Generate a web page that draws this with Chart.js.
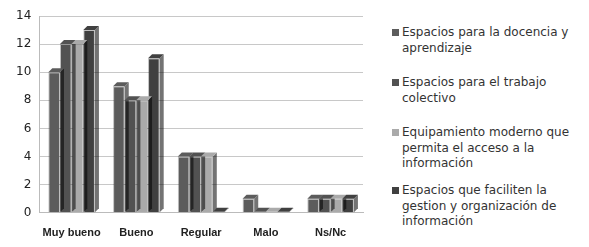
<!DOCTYPE html>
<html>
<head>
<meta charset="utf-8">
<script src="https://cdn.jsdelivr.net/npm/chart.js@4"></script>
<style>
  html, body { margin: 0; padding: 0; background: #fff; }
  #wrap { position: relative; width: 589px; height: 247px; }
  #chart-box { position: absolute; left: 0; top: 0; width: 385px; height: 247px; }
  #legend { position: absolute; left: 392px; top: 25px; width: 192px;
            font-family: 'DejaVu Sans', sans-serif; font-size: 12px; color: #333; line-height: 15.5px; }
  .item { position: absolute; left: 0; padding-left: 10px; }
  .sw { position: absolute; left: 0; top: 4px; width: 7px; height: 7px; }
</style>
</head>
<body>
<div id="wrap">
  <div id="chart-box"><canvas id="c"></canvas></div>
  <div id="legend"></div>
</div>
<script>
'use strict';

// ---- data ----
const categories = ['Muy bueno', 'Bueno', 'Regular', 'Malo', 'Ns/Nc'];
const seriesNames = [
  'Espacios para la docencia y aprendizaje',
  'Espacios para el trabajo colectivo',
  'Equipamiento moderno que permita el acceso a la información',
  'Espacios que faciliten la gestion y organización de información'
];
const docencia     = [10, 9, 4, 1, 1];
const colectivo    = [12, 8, 4, 0, 1];
const equipamiento = [12, 8, 4, 0, 1];
const gestion      = [13, 11, 0, 0, 1];
const yTicks = [0, 2, 4, 6, 8, 10, 12, 14];

const colors = ['#5c5c5c', '#525252', '#aaaaaa', '#404040'];
const legendTops = [0, 50, 100, 158];

// ---- fake 3D depth on the bars ----
const depth3d = {
  id: 'depth3d',
  afterDatasetsDraw(chart) {
    const ctx = chart.ctx;
    const d = 4;
    chart.data.datasets.forEach((ds, i) => {
      chart.getDatasetMeta(i).data.forEach(bar => {
        const l = bar.x - bar.width / 2, r = bar.x + bar.width / 2;
        const t = bar.y, b = bar.base;
        ctx.save();
        ctx.fillStyle = 'rgba(0,0,0,0.55)';
        ctx.beginPath();
        ctx.moveTo(r, t); ctx.lineTo(r + d, t - d); ctx.lineTo(r + d, b - d); ctx.lineTo(r, b);
        ctx.closePath(); ctx.fill();
        ctx.fillStyle = ds.backgroundColor;
        ctx.beginPath();
        ctx.moveTo(l, t); ctx.lineTo(l + d, t - d); ctx.lineTo(r + d, t - d); ctx.lineTo(r, t);
        ctx.closePath(); ctx.fill();
        ctx.restore();
      });
    });
  }
};

const values = [docencia, colectivo, equipamiento, gestion];

new Chart(document.getElementById('c'), {
  type: 'bar',
  data: {
    labels: categories,
    datasets: values.map((v, i) => ({
      label: seriesNames[i],
      data: v,
      backgroundColor: colors[i],
      borderColor: 'rgba(0,0,0,0.25)',
      borderWidth: 1,
      minBarLength: 1
    }))
  },
  plugins: [depth3d],
  options: {
    responsive: true,
    maintainAspectRatio: false,
    animation: false,
    layout: { padding: { left: 8, right: 22, top: 16, bottom: 1 } },
    plugins: { legend: { display: false }, tooltip: { enabled: false } },
    datasets: { bar: { categoryPercentage: 0.72, barPercentage: 1 } },
    scales: {
      x: {
        grid: { display: false },
        border: { color: '#bbb' },
        ticks: { color: '#222', font: { family: 'Liberation Sans', size: 11, weight: 'bold' }, padding: 6 }
      },
      y: {
        min: 0, max: 14,
        afterBuildTicks: s => { s.ticks = yTicks.map(v => ({ value: v })); },
        grid: { color: '#c8c8c8', drawTicks: false },
        border: { color: '#bbb' },
        ticks: { color: '#222', font: { family: 'DejaVu Sans', size: 12 }, padding: 8 }
      }
    }
  }
});

// ---- html legend ----
const leg = document.getElementById('legend');
seriesNames.forEach((name, i) => {
  const el = document.createElement('div');
  el.className = 'item';
  el.style.top = legendTops[i] + 'px';
  el.innerHTML = '<span class="sw" style="background:' + colors[i] + '"></span>' + name;
  leg.appendChild(el);
});
</script>
</body>
</html>
